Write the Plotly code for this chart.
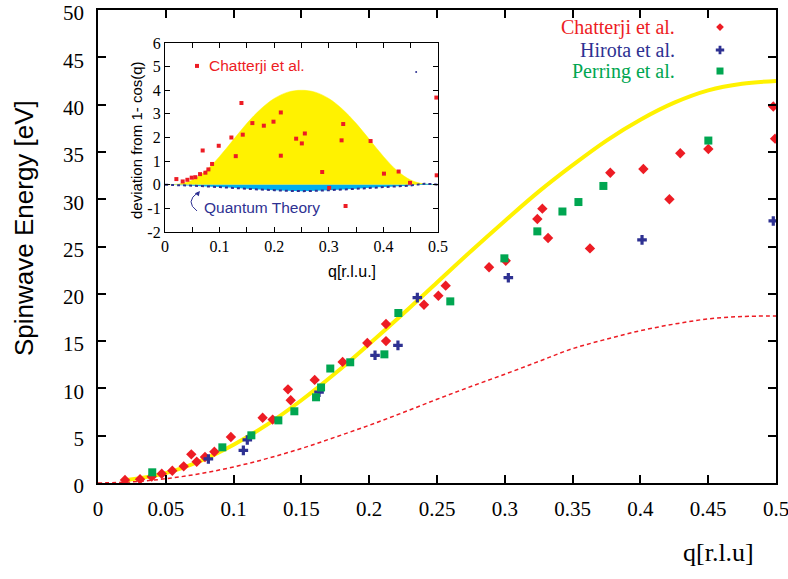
import plotly.graph_objects as go

# ---------------- data ----------------
# Main panel: spin-wave energy vs q
chat_q = [0.0199, 0.031, 0.0396, 0.047, 0.0548, 0.0632, 0.0688, 0.0728, 0.0789, 0.0858, 0.098,
          0.1214, 0.1288, 0.1401, 0.1421, 0.1598, 0.1804, 0.1986, 0.2124, 0.2124, 0.2404, 0.251,
          0.2564, 0.2884, 0.3007, 0.324, 0.3277, 0.3319, 0.3628, 0.3778, 0.4022, 0.4214, 0.4294,
          0.4501, 0.498, 0.4993]
chat_E = [0.32, 0.39, 0.67, 0.98, 1.3, 1.76, 3.03, 2.25, 2.75, 3.3, 4.86,
          6.9, 6.7, 9.9, 8.74, 10.9, 12.8, 14.8, 16.8, 15.0, 18.85, 19.8,
          20.86, 22.8, 23.5, 27.9, 29.0, 25.9, 24.8, 32.8, 33.2, 30.0, 34.85,
          35.3, 39.8, 36.4]

hir_q = [0.0814, 0.1072, 0.1101, 0.163, 0.2043, 0.2212, 0.2355, 0.3026, 0.4012, 0.498]
hir_E = [2.54, 3.45, 4.55, 9.6, 13.5, 14.55, 19.6, 21.7, 25.7, 27.7]

per_q = [0.04, 0.0917, 0.1131, 0.133, 0.1448, 0.1608, 0.1645, 0.1713, 0.186, 0.2112, 0.2215,
         0.2598, 0.2997, 0.324, 0.3425, 0.3543, 0.3727, 0.4501]
per_E = [1.13, 3.77, 5.04, 6.62, 7.58, 9.06, 10.1, 12.1, 12.76, 13.6, 17.97,
         19.2, 23.75, 26.6, 28.7, 29.7, 31.4, 36.2]

fit_q = [0.02, 0.05, 0.075, 0.1, 0.125, 0.15, 0.175, 0.2, 0.225, 0.25, 0.275, 0.3, 0.325,
         0.35, 0.375, 0.4, 0.425, 0.45, 0.475, 0.5]
fit_E = [0.3, 1.05, 2.3, 4.05, 6.2, 8.75, 11.6, 14.7, 17.9, 21.2, 24.5, 27.7, 30.8,
         33.6, 36.2, 38.4, 40.2, 41.5, 42.2, 42.5]

dash_q = [0, 0.025, 0.05, 0.075, 0.1, 0.125, 0.15, 0.175, 0.2, 0.225, 0.25, 0.275, 0.3,
          0.325, 0.35, 0.375, 0.4, 0.425, 0.45, 0.475, 0.5]
dash_E = [0, 0.12, 0.45, 0.98, 1.7, 2.6, 3.65, 4.85, 6.1, 7.45, 8.85, 10.2, 11.5,
          12.85, 14.2, 15.2, 16.1, 16.8, 17.35, 17.6, 17.65]

# Inset: deviation from 1 - cos(q)
ins_q = [0.0208, 0.0324, 0.041, 0.0489, 0.0556, 0.0642, 0.069, 0.074, 0.0795, 0.0862, 0.0984,
         0.1216, 0.1296, 0.14, 0.1424, 0.16, 0.181, 0.1987, 0.2121, 0.2121, 0.2402, 0.2506,
         0.2561, 0.2879, 0.3007, 0.3234, 0.3264, 0.3307, 0.3765, 0.401, 0.4279, 0.4487,
         0.497, 0.4976]
ins_v = [0.24, 0.14, 0.21, 0.30, 0.32, 0.45, 1.45, 0.51, 0.65, 0.88, 1.65,
         2.0, 1.21, 3.46, 2.12, 2.61, 2.5, 2.67, 3.06, 1.23, 1.95, 1.75,
         2.17, 0.54, -0.13, 1.88, 2.57, -0.90, 1.85, 0.47, 0.56, 0.08,
         3.69, 0.40]

bump_q = [0, 0.025, 0.05, 0.075, 0.1, 0.125, 0.15, 0.175, 0.2, 0.225, 0.25, 0.275, 0.3,
          0.325, 0.35, 0.375, 0.4, 0.425, 0.45, 0.475, 0.5]
bump_v = [0, 0.03, 0.2, 0.6, 1.2, 1.9, 2.6, 3.2, 3.65, 3.92, 4.0, 3.92, 3.65,
          3.2, 2.6, 1.9, 1.2, 0.6, 0.2, 0.03, 0]

qt_q = [0, 0.05, 0.1, 0.15, 0.2, 0.25, 0.3, 0.35, 0.4, 0.45, 0.475, 0.5]
qt_v = [0, -0.04, -0.1, -0.17, -0.23, -0.27, -0.23, -0.17, -0.1, -0.03, 0.04, 0]

main_xticks = [0, 0.05, 0.1, 0.15, 0.2, 0.25, 0.3, 0.35, 0.4, 0.45, 0.5]
main_xtext = ["0", "0.05", "0.1", "0.15", "0.2", "0.25", "0.3", "0.35", "0.4", "0.45", "0.5"]
main_yticks = [0, 5, 10, 15, 20, 25, 30, 35, 40, 45, 50]
main_ytext = ["0", "5", "10", "15", "20", "25", "30", "35", "40", "45", "50"]
ins_xticks = [0, 0.05, 0.1, 0.15, 0.2, 0.25, 0.3, 0.35, 0.4, 0.45, 0.5]
ins_xtext = ["0", "", "0.1", "", "0.2", "", "0.3", "", "0.4", "", "0.5"]
ins_yticks = [-2, -1, 0, 1, 2, 3, 4, 5, 6]
ins_ytext = ["-2", "-1", "0", "1", "2", "3", "4", "5", "6"]

legend_names = ["Chatterji et al.", "Hirota et al.", "Perring et al."]

# ---------------- styling ----------------
RED = "#ed1c24"
NAVY = "#2e3192"
GREEN = "#00a651"
YELLOW = "#fff200"
CYAN = "#00aeef"
SERIF = "Liberation Serif, Times New Roman, serif"
SANS = "Liberation Sans, Arial, sans-serif"

fig = go.Figure()

# main panel curves
fig.add_trace(go.Scatter(x=dash_q, y=dash_E, mode="lines", line=dict(color=RED, width=1.5, dash="4px,3px", shape="spline"),
                         xaxis="x", yaxis="y", hoverinfo="skip"))
fig.add_trace(go.Scatter(x=fit_q, y=fit_E, mode="lines", line=dict(color=YELLOW, width=4, shape="spline"),
                         xaxis="x", yaxis="y", hoverinfo="skip"))
fig.add_trace(go.Scatter(x=chat_q, y=chat_E, mode="markers", marker=dict(symbol="diamond", size=8, color=RED),
                         xaxis="x", yaxis="y"))
fig.add_trace(go.Scatter(x=hir_q, y=hir_E, mode="markers", marker=dict(symbol="cross", size=8, color=NAVY),
                         xaxis="x", yaxis="y"))
fig.add_trace(go.Scatter(x=per_q, y=per_E, mode="markers", marker=dict(symbol="square", size=8, color=GREEN),
                         xaxis="x", yaxis="y"))

# main legend (manual)
leg_q = 0.4587
leg_E = [48.2, 45.77, 43.55]
leg_sym = ["diamond", "cross", "square"]
leg_col = [RED, NAVY, GREEN]
leg_size = [6, 7, 7]
for name, e, s, c, sz in zip(legend_names, leg_E, leg_sym, leg_col, leg_size):
    fig.add_trace(go.Scatter(x=[leg_q], y=[e], mode="markers", marker=dict(symbol=s, size=sz, color=c),
                             xaxis="x", yaxis="y", hoverinfo="skip"))
    fig.add_annotation(x=0.427, y=e, xref="x", yref="y", text=name, showarrow=False,
                       xanchor="right", yanchor="middle", font=dict(family=SERIF, size=20, color=c))

# inset
fig.add_trace(go.Scatter(x=bump_q, y=bump_v, mode="lines", fill="tozeroy", fillcolor=YELLOW,
                         line=dict(color=YELLOW, width=0.5, shape="spline"), xaxis="x2", yaxis="y2", hoverinfo="skip"))
fig.add_trace(go.Scatter(x=qt_q, y=qt_v, mode="lines", fill="tozeroy", fillcolor=CYAN,
                         line=dict(color=NAVY, width=2, dash="dot", shape="spline"), xaxis="x2", yaxis="y2", hoverinfo="skip"))
fig.add_trace(go.Scatter(x=ins_q, y=ins_v, mode="markers", marker=dict(symbol="square", size=4, color=RED),
                         xaxis="x2", yaxis="y2"))
fig.add_trace(go.Scatter(x=[0.0586], y=[5.03], mode="markers", marker=dict(symbol="square", size=4, color=RED),
                         xaxis="x2", yaxis="y2", hoverinfo="skip"))
fig.add_trace(go.Scatter(x=[0.46], y=[4.77], mode="markers", marker=dict(symbol="circle", size=2, color=NAVY),
                         xaxis="x2", yaxis="y2", hoverinfo="skip"))
fig.add_annotation(x=0.0769, y=5.03, xref="x2", yref="y2", text="Chatterji et al.", showarrow=False,
                   xanchor="left", yanchor="middle", font=dict(family=SANS, size=15.5, color=RED))
fig.add_annotation(x=0.0678, y=-0.98, xref="x2", yref="y2", text="Quantum Theory", showarrow=False,
                   xanchor="left", yanchor="middle", font=dict(family=SANS, size=15.5, color=NAVY))
# curved arrow for "Quantum Theory"
fig.add_shape(type="path", xref="x2", yref="y2", path="M 0.0586,-1.11 Q 0.036,-0.72 0.060,-0.33",
              line=dict(color=NAVY, width=1))
fig.add_annotation(x=0.064, y=-0.26, xref="x2", yref="y2", ax=-4, ay=5, text="", showarrow=True,
                   arrowhead=2, arrowsize=1, arrowwidth=1, arrowcolor=NAVY)

# titles as annotations (explicit centre anchors)
fig.add_annotation(x=(24 - 98) / 678, y=(483 - 228) / 473, xref="paper", yref="paper", text="Spinwave Energy [eV]",
                   textangle=-90, showarrow=False, xanchor="center", yanchor="middle",
                   font=dict(family=SANS, size=26, color="black"))
fig.add_annotation(x=(718 - 98) / 678, y=(483 - 552) / 473, xref="paper", yref="paper", text="q[r.l.u]",
                   showarrow=False, xanchor="center", yanchor="middle",
                   font=dict(family=SERIF, size=26, color="black"))
fig.add_annotation(x=(136 - 98) / 678, y=(483 - 140) / 473, xref="paper", yref="paper",
                   text="deviation from 1- cos(q)", textangle=-90, showarrow=False, xanchor="center", yanchor="middle",
                   font=dict(family=SANS, size=15, color="black"))
fig.add_annotation(x=(352 - 98) / 678, y=(483 - 271) / 473, xref="paper", yref="paper",
                   text="q[r.l.u.]", showarrow=False, xanchor="center", yanchor="middle",
                   font=dict(family=SANS, size=16, color="black"))

axis_common = dict(showline=True, linecolor="black", mirror="ticks", ticks="inside", tickcolor="black",
                   showgrid=False, zeroline=False, automargin=False, ticklabeloverflow="allow")

fig.update_layout(
    width=788, height=579,
    margin=dict(l=98, r=12, t=10, b=96),
    paper_bgcolor="white", plot_bgcolor="white",
    showlegend=False,
    xaxis=dict(**axis_common, range=[0, 0.5], domain=[0, 1], linewidth=1.5, ticklen=8, tickwidth=1.5,
               tickvals=main_xticks, ticktext=main_xtext, ticklabelstandoff=6,
               tickfont=dict(family=SERIF, size=21, color="black"), anchor="y"),
    yaxis=dict(**axis_common, range=[0, 50], domain=[0, 1], linewidth=1.5, ticklen=8, tickwidth=1.5,
               tickvals=main_yticks, ticktext=main_ytext, ticklabelstandoff=8, ticklabelshift=3,
               tickfont=dict(family=SERIF, size=21, color="black"), anchor="x"),
    xaxis2=dict(**axis_common, range=[0, 0.5], domain=[(165 - 98) / 678, (438 - 98) / 678], linewidth=1.2,
                ticklen=5, tickvals=ins_xticks, ticktext=ins_xtext,
                tickfont=dict(family=SERIF, size=16, color="black"), anchor="y2"),
    yaxis2=dict(**axis_common, range=[-2, 6], domain=[(483 - 232) / 473, (483 - 43) / 473], linewidth=1.2,
                ticklen=5, tickvals=ins_yticks, ticktext=ins_ytext,
                tickfont=dict(family=SERIF, size=16, color="black"), anchor="x2"),
)

# remove the default 8px page margin so the figure sits at the window's top-left corner
fig.write_html("out.html", config={"displayModeBar": False},
               post_script="document.body.style.margin='0px';")
